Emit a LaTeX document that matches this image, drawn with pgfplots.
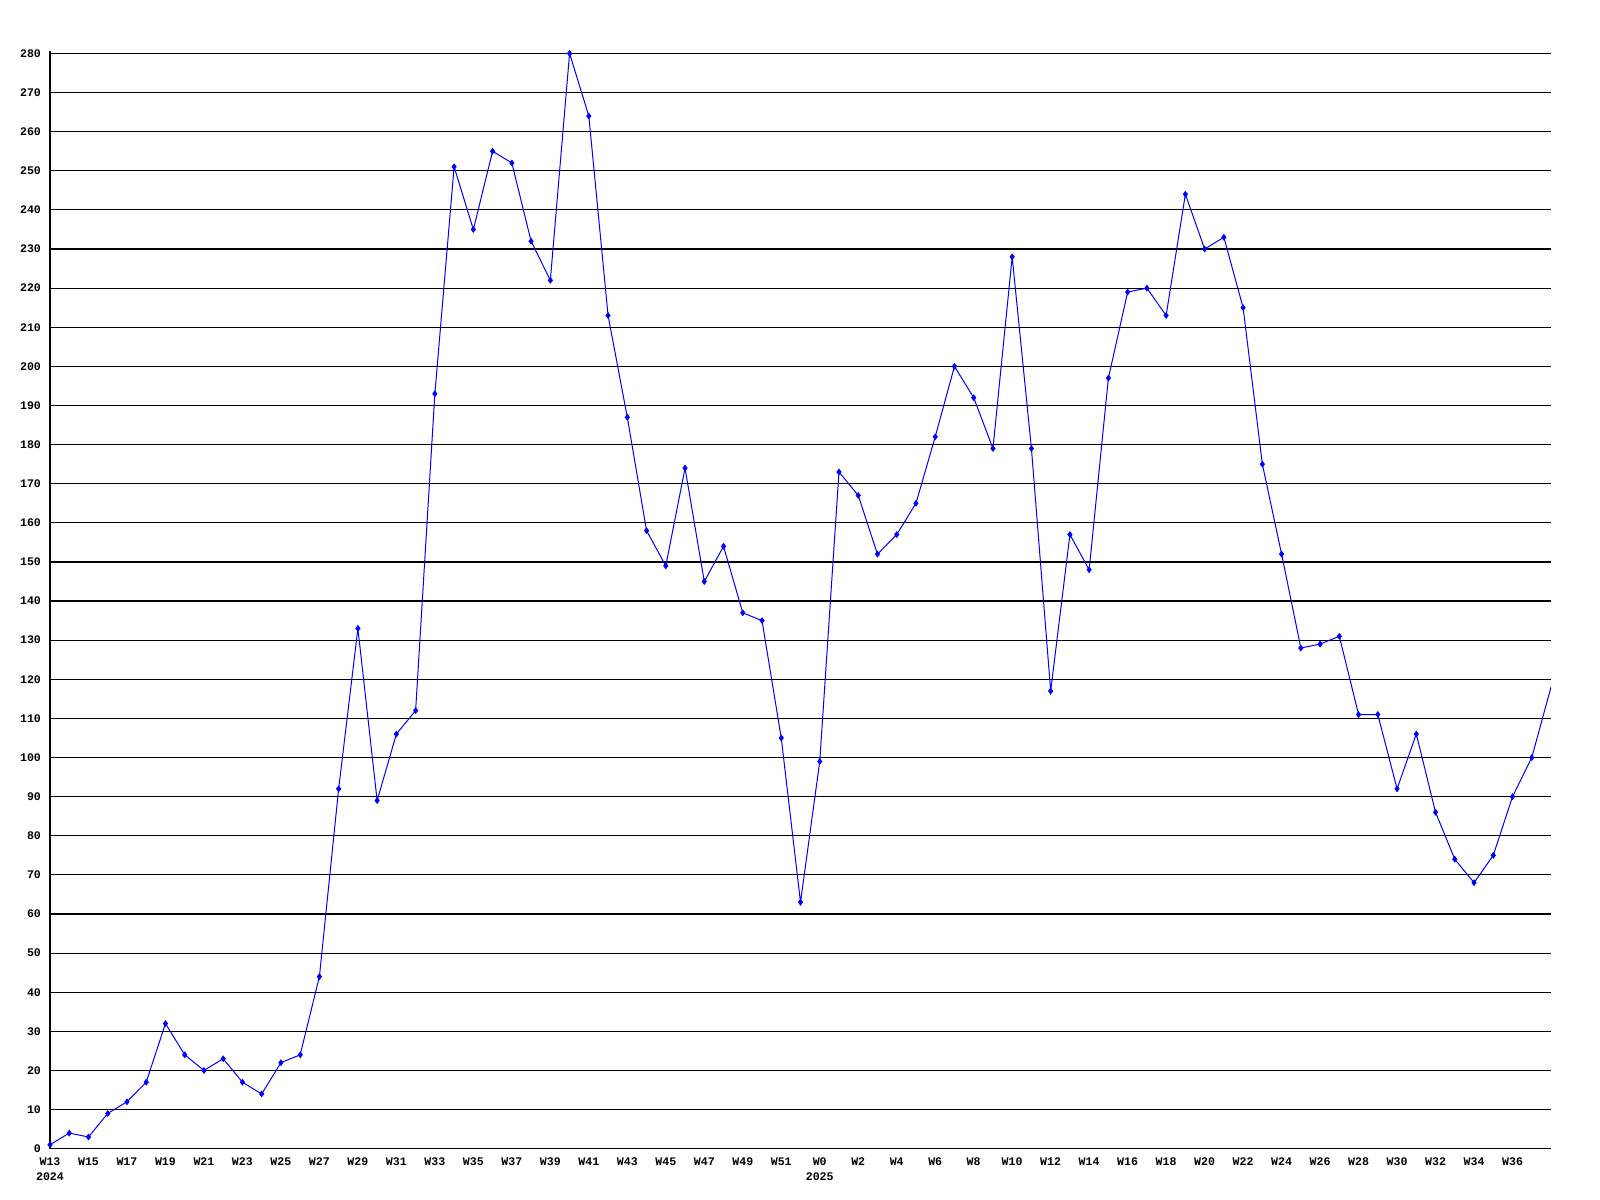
\documentclass[border=0pt]{standalone}
\usepackage{fontspec}
\setmainfont{Liberation Mono}
\usepackage{pgfplots}
\pgfplotsset{compat=1.18}
\begin{document}
\begin{tikzpicture}
\path[use as bounding box] (-25pt,-25.5pt) rectangle (775pt,574.35pt);
\begin{axis}[
  at={(0,0)}, anchor=south west,
  scale only axis, width=750.5pt, height=549pt,
  xmin=0, xmax=78, ymin=0, ymax=280.7,
  axis lines*=left, axis line style={-, black, line width=0.6pt},
  ymajorgrids, grid style={black, line width=0.6pt},
  major tick length=0pt,
  ytick={0,10,...,280},
  xtick={0,2,...,76},
  xticklabels={W13,W15,W17,W19,W21,W23,W25,W27,W29,W31,W33,W35,W37,W39,W41,W43,W45,W47,W49,W51,W0,W2,W4,W6,W8,W10,W12,W14,W16,W18,W20,W22,W24,W26,W28,W30,W32,W34,W36},
  extra x ticks={0,40}, extra x tick labels={\strut\\2024,\strut\\2025},
  extra x tick style={xticklabel style={yshift=2pt}},
  /pgf/number format/assume math mode=true,
  tick label style={font=\fontsize{5.8}{8}\selectfont\bfseries},
  xticklabel style={align=center, yshift=-1pt},
  yticklabel style={xshift=-1pt},
  clip=true,
]
\addplot[blue, line width=0.5pt, no marks] coordinates {
(0,1)(1,4)(2,3)(3,9)(4,12)(5,17)(6,32)(7,24)(8,20)(9,23)
(10,17)(11,14)(12,22)(13,24)(14,44)(15,92)(16,133)(17,89)(18,106)(19,112)
(20,193)(21,251)(22,235)(23,255)(24,252)(25,232)(26,222)(27,280)(28,264)(29,213)
(30,187)(31,158)(32,149)(33,174)(34,145)(35,154)(36,137)(37,135)(38,105)(39,63)
(40,99)(41,173)(42,167)(43,152)(44,157)(45,165)(46,182)(47,200)(48,192)(49,179)
(50,228)(51,179)(52,117)(53,157)(54,148)(55,197)(56,219)(57,220)(58,213)(59,244)
(60,230)(61,233)(62,215)(63,175)(64,152)(65,128)(66,129)(67,131)(68,111)(69,111)
(70,92)(71,106)(72,86)(73,74)(74,68)(75,75)(76,90)(77,100)(78,118)
};
\addplot[blue, only marks, mark=diamond*, mark size=1.4pt] coordinates {
(0,1)(1,4)(2,3)(3,9)(4,12)(5,17)(6,32)(7,24)(8,20)(9,23)
(10,17)(11,14)(12,22)(13,24)(14,44)(15,92)(16,133)(17,89)(18,106)(19,112)
(20,193)(21,251)(22,235)(23,255)(24,252)(25,232)(26,222)(27,280)(28,264)(29,213)
(30,187)(31,158)(32,149)(33,174)(34,145)(35,154)(36,137)(37,135)(38,105)(39,63)
(40,99)(41,173)(42,167)(43,152)(44,157)(45,165)(46,182)(47,200)(48,192)(49,179)
(50,228)(51,179)(52,117)(53,157)(54,148)(55,197)(56,219)(57,220)(58,213)(59,244)
(60,230)(61,233)(62,215)(63,175)(64,152)(65,128)(66,129)(67,131)(68,111)(69,111)
(70,92)(71,106)(72,86)(73,74)(74,68)(75,75)(76,90)(77,100)
};
\end{axis}
\end{tikzpicture}
\end{document}
